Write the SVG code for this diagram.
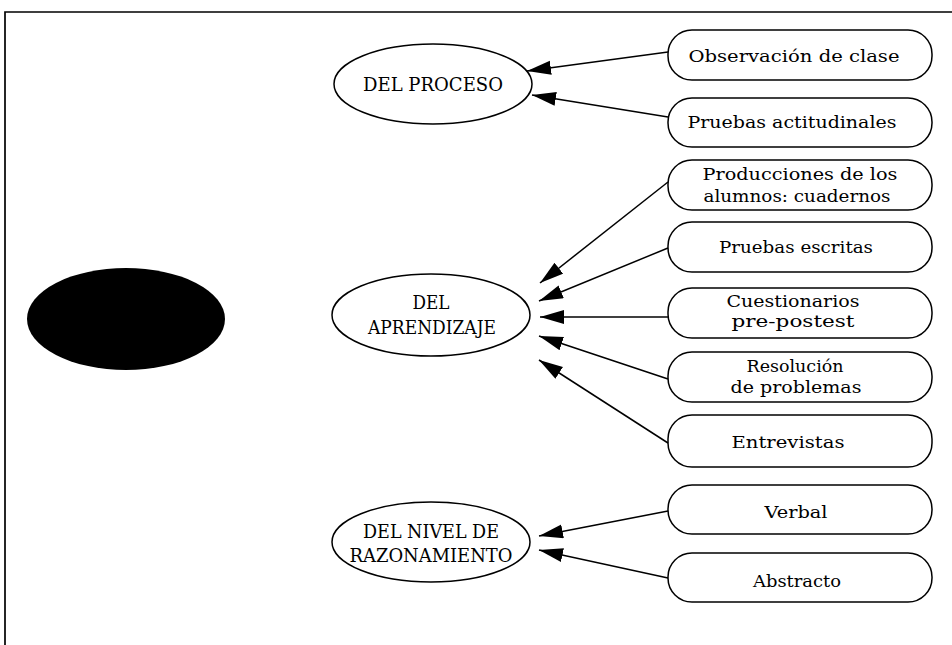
<svg xmlns="http://www.w3.org/2000/svg" width="952" height="645" viewBox="0 0 952 645">
  <style>
    .frame { fill: none; stroke: #000; stroke-width: 1.7; }
    .oval { fill: #fff; stroke: #000; stroke-width: 1.5; }
    .box { fill: #fff; stroke: #000; stroke-width: 1.5; }
    .edge { fill: none; stroke: #000; stroke-width: 1.5; marker-end: url(#head); }
    text { font-family: "DejaVu Serif", "Liberation Serif", serif; fill: #000; text-anchor: middle; }
    .lbl { font-size: 17.5px; }
    .cap { font-size: 19px; }
  </style>
  <defs>
    <marker id="head" markerUnits="userSpaceOnUse" markerWidth="26" markerHeight="16" refX="24" refY="7" orient="auto">
      <path d="M0,0 L24,7 L0,14 Z" fill="#000"/>
    </marker>
  </defs>

  <rect width="952" height="645" fill="#fff"/>

  <!-- page frame -->
  <path class="frame" d="M5,645 L5,12 L952,12"/>

  <!-- root node -->
  <g id="root">
    <ellipse cx="126" cy="319" rx="99" ry="51" fill="#000"/>
  </g>

  <!-- category nodes -->
  <g id="proceso">
    <ellipse class="oval" cx="433" cy="84" rx="99" ry="40"/>
    <text class="cap" x="433" y="91" textLength="140" lengthAdjust="spacingAndGlyphs">DEL PROCESO</text>
  </g>
  <g id="aprendizaje">
    <ellipse class="oval" cx="431" cy="315" rx="99" ry="41"/>
    <text class="cap" x="431" y="309" textLength="37" lengthAdjust="spacingAndGlyphs">DEL</text>
    <text class="cap" x="432" y="334" textLength="128" lengthAdjust="spacingAndGlyphs">APRENDIZAJE</text>
  </g>
  <g id="razonamiento">
    <ellipse class="oval" cx="431" cy="542" rx="99" ry="40"/>
    <text class="cap" x="431" y="538" textLength="136" lengthAdjust="spacingAndGlyphs">DEL NIVEL DE</text>
    <text class="cap" x="431" y="562" textLength="163" lengthAdjust="spacingAndGlyphs">RAZONAMIENTO</text>
  </g>

  <!-- instrument nodes -->
  <g id="observacion">
    <rect class="box" x="668" y="30" width="264" height="50" rx="24"/>
    <text class="lbl" x="794" y="62" textLength="211" lengthAdjust="spacingAndGlyphs">Observación de clase</text>
  </g>
  <g id="actitudinales">
    <rect class="box" x="668" y="98" width="264" height="49" rx="24"/>
    <text class="lbl" x="792" y="128" textLength="209" lengthAdjust="spacingAndGlyphs">Pruebas actitudinales</text>
  </g>
  <g id="producciones">
    <rect class="box" x="668" y="160" width="264" height="50" rx="24"/>
    <text class="lbl" x="800" y="180" textLength="195" lengthAdjust="spacingAndGlyphs">Producciones de los</text>
    <text class="lbl" x="797" y="202" textLength="187" lengthAdjust="spacingAndGlyphs">alumnos: cuadernos</text>
  </g>
  <g id="escritas">
    <rect class="box" x="668" y="222" width="264" height="50" rx="24"/>
    <text class="lbl" x="796" y="253" textLength="154" lengthAdjust="spacingAndGlyphs">Pruebas escritas</text>
  </g>
  <g id="cuestionarios">
    <rect class="box" x="668" y="288" width="264" height="50" rx="24"/>
    <text class="lbl" x="793" y="307" textLength="133" lengthAdjust="spacingAndGlyphs">Cuestionarios</text>
    <text class="lbl" x="793" y="327" textLength="123" lengthAdjust="spacingAndGlyphs">pre-postest</text>
  </g>
  <g id="resolucion">
    <rect class="box" x="668" y="352" width="264" height="50" rx="24"/>
    <text class="lbl" x="795" y="372" textLength="97" lengthAdjust="spacingAndGlyphs">Resolución</text>
    <text class="lbl" x="796" y="393" textLength="131" lengthAdjust="spacingAndGlyphs">de problemas</text>
  </g>
  <g id="entrevistas">
    <rect class="box" x="668" y="415" width="264" height="52" rx="24"/>
    <text class="lbl" x="788" y="448" textLength="113" lengthAdjust="spacingAndGlyphs">Entrevistas</text>
  </g>
  <g id="verbal">
    <rect class="box" x="668" y="485" width="264" height="49" rx="24"/>
    <text class="lbl" x="796" y="518" textLength="63" lengthAdjust="spacingAndGlyphs">Verbal</text>
  </g>
  <g id="abstracto">
    <rect class="box" x="668" y="553" width="264" height="49" rx="24"/>
    <text class="lbl" x="797" y="587" textLength="88" lengthAdjust="spacingAndGlyphs">Abstracto</text>
  </g>

  <!-- connectors -->
  <g id="connectors">
    <line class="edge" x1="668" y1="52" x2="527" y2="71"/>
    <line class="edge" x1="668" y1="117" x2="532" y2="95"/>
    <line class="edge" x1="668" y1="182" x2="540" y2="283"/>
    <line class="edge" x1="668" y1="248" x2="539" y2="301"/>
    <line class="edge" x1="668" y1="317" x2="540" y2="317"/>
    <line class="edge" x1="668" y1="379" x2="539" y2="336"/>
    <line class="edge" x1="668" y1="443" x2="539" y2="360"/>
    <line class="edge" x1="668" y1="511" x2="539" y2="536"/>
    <line class="edge" x1="668" y1="578" x2="539" y2="550"/>
  </g>
</svg>
